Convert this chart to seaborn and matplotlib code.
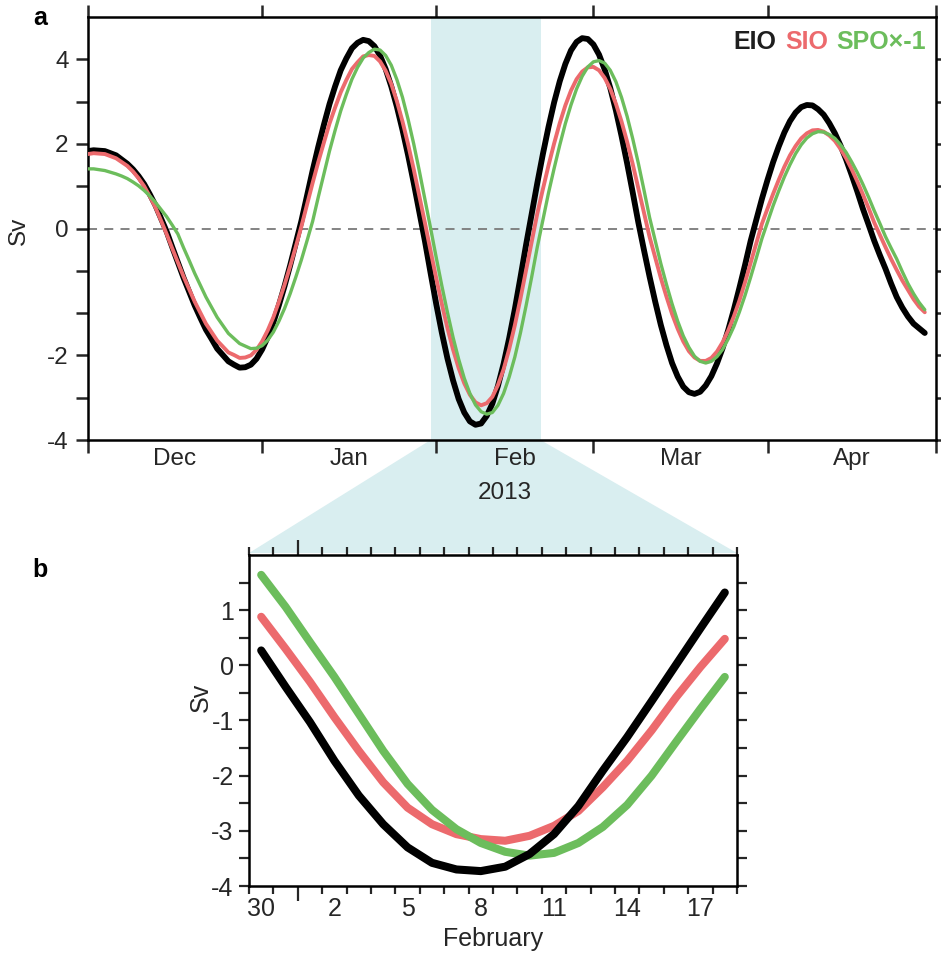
import numpy as np
import pandas as pd
import matplotlib
matplotlib.use('Agg')
import matplotlib.pyplot as plt
import matplotlib.dates as mdates
from matplotlib.patches import Polygon
import seaborn as sns

# ---- panel a: daily values from 1 Dec 2012 ----
# the axis is linear in these units; its printed labels below zero sit one
# unit lower than the marks they are drawn at, as in the source figure
days_a = list(range(150))
eio_a = [1.83, 1.85, 1.84, 1.83, 1.78, 1.73, 1.63, 1.53, 1.40, 1.24,
         1.05, 0.81, 0.55, 0.24, -0.07, -0.44, -0.80, -1.16, -1.49, -1.82,
         -2.11, -2.39, -2.61, -2.84, -2.99, -3.14, -3.22, -3.29, -3.28, -3.22,
         -3.08, -2.86, -2.57, -2.22, -1.81, -1.36, -0.87, -0.35, 0.18, 0.78,
         1.37, 1.93, 2.45, 2.94, 3.36, 3.74, 4.02, 4.26, 4.39, 4.46,
         4.43, 4.31, 4.09, 3.77, 3.36, 2.88, 2.33, 1.73, 1.08, 0.39,
         -0.30, -1.05, -1.78, -2.46, -3.07, -3.59, -4.03, -4.35, -4.56, -4.64,
         -4.61, -4.43, -4.14, -3.72, -3.20, -2.59, -1.91, -1.16, -0.39, 0.34,
         1.07, 1.76, 2.40, 2.98, 3.48, 3.89, 4.21, 4.41, 4.50, 4.48,
         4.35, 4.11, 3.76, 3.32, 2.79, 2.19, 1.54, 0.85, 0.14, -0.51,
         -1.14, -1.73, -2.28, -2.76, -3.18, -3.50, -3.74, -3.87, -3.91, -3.86,
         -3.71, -3.49, -3.19, -2.83, -2.40, -1.92, -1.40, -0.86, -0.29, 0.21,
         0.70, 1.15, 1.57, 1.94, 2.27, 2.54, 2.74, 2.87, 2.92, 2.91,
         2.82, 2.69, 2.49, 2.25, 1.96, 1.63, 1.26, 0.87, 0.46, 0.09,
         -0.29, -0.63, -0.95, -1.30, -1.62, -1.87, -2.08, -2.25, -2.36, -2.47]
sio_a = [1.76, 1.78, 1.77, 1.76, 1.71, 1.66, 1.57, 1.48, 1.35, 1.19,
         1.00, 0.76, 0.50, 0.19, -0.13, -0.47, -0.80, -1.13, -1.43, -1.73,
         -1.99, -2.25, -2.45, -2.65, -2.79, -2.93, -2.99, -3.06, -3.05, -3.00,
         -2.87, -2.67, -2.41, -2.10, -1.73, -1.33, -0.89, -0.43, 0.05, 0.57,
         1.08, 1.57, 2.03, 2.48, 2.86, 3.22, 3.51, 3.77, 3.93, 4.07,
         4.10, 4.08, 3.95, 3.73, 3.42, 3.01, 2.53, 1.99, 1.40, 0.77,
         0.13, -0.53, -1.17, -1.78, -2.35, -2.86, -3.30, -3.66, -3.93, -4.11,
         -4.18, -4.13, -3.98, -3.70, -3.33, -2.85, -2.29, -1.66, -0.99, -0.32,
         0.35, 0.93, 1.49, 2.01, 2.49, 2.91, 3.26, 3.53, 3.71, 3.81,
         3.82, 3.74, 3.56, 3.30, 2.95, 2.53, 2.05, 1.52, 0.95, 0.38,
         -0.20, -0.69, -1.17, -1.61, -2.02, -2.37, -2.67, -2.90, -3.05, -3.13,
         -3.13, -3.06, -2.91, -2.69, -2.41, -2.08, -1.70, -1.27, -0.81, -0.35,
         0.11, 0.47, 0.82, 1.15, 1.46, 1.73, 1.95, 2.13, 2.25, 2.32,
         2.33, 2.29, 2.20, 2.07, 1.88, 1.66, 1.40, 1.11, 0.80, 0.48,
         0.14, -0.15, -0.44, -0.72, -0.98, -1.23, -1.45, -1.67, -1.85, -1.98]
spo_a = [1.41, 1.41, 1.39, 1.37, 1.33, 1.29, 1.24, 1.18, 1.10, 1.01,
         0.90, 0.77, 0.62, 0.45, 0.28, 0.08, -0.13, -0.45, -0.75, -1.06,
         -1.34, -1.62, -1.86, -2.10, -2.29, -2.48, -2.60, -2.72, -2.78, -2.84,
         -2.83, -2.77, -2.64, -2.45, -2.19, -1.89, -1.54, -1.15, -0.74, -0.29,
         0.17, 0.74, 1.29, 1.83, 2.32, 2.78, 3.17, 3.53, 3.81, 4.03,
         4.16, 4.24, 4.22, 4.09, 3.86, 3.52, 3.10, 2.58, 2.00, 1.36,
         0.69, 0.01, -0.68, -1.35, -1.98, -2.57, -3.09, -3.54, -3.90, -4.17,
         -4.33, -4.39, -4.35, -4.18, -3.90, -3.51, -3.04, -2.47, -1.83, -1.15,
         -0.44, 0.20, 0.84, 1.42, 1.97, 2.48, 2.92, 3.30, 3.60, 3.82,
         3.94, 3.97, 3.91, 3.74, 3.47, 3.10, 2.65, 2.12, 1.54, 0.91,
         0.26, -0.29, -0.83, -1.32, -1.78, -2.19, -2.54, -2.81, -3.02, -3.14,
         -3.18, -3.14, -3.03, -2.86, -2.61, -2.32, -1.97, -1.58, -1.15, -0.70,
         -0.24, 0.15, 0.54, 0.89, 1.22, 1.51, 1.77, 1.98, 2.14, 2.24,
         2.29, 2.28, 2.22, 2.13, 1.98, 1.80, 1.57, 1.32, 1.04, 0.74,
         0.42, 0.12, -0.19, -0.46, -0.72, -1.02, -1.30, -1.54, -1.75, -1.92]

# ---- panel b: daily values 30 Jan - 18 Feb 2013 ----
eio_b = [0.27, -0.39, -1.03, -1.73, -2.36, -2.88, -3.30, -3.58, -3.70, -3.73,
         -3.65, -3.42, -3.06, -2.55, -1.91, -1.30, -0.65, 0.01, 0.67, 1.32]
sio_b = [0.88, 0.30, -0.30, -0.94, -1.55, -2.12, -2.58, -2.88, -3.06, -3.15,
         -3.18, -3.09, -2.91, -2.64, -2.21, -1.73, -1.18, -0.58, -0.03, 0.48]
spo_b = [1.64, 1.06, 0.42, -0.21, -0.88, -1.55, -2.15, -2.62, -2.97, -3.22,
         -3.38, -3.45, -3.40, -3.22, -2.93, -2.53, -2.00, -1.39, -0.79, -0.21]

month_names = ['Dec', 'Jan', 'Feb', 'Mar', 'Apr']
a_ytick_vals = [4, 2, 0, -3, -5]
a_ytick_labels = ['4', '2', '0', '-2', '-4']
b_tick_dates = ['2013-01-30', '2013-02-02', '2013-02-05', '2013-02-08',
                '2013-02-11', '2013-02-14', '2013-02-17']
b_tick_labels = ['30', '2', '5', '8', '11', '14', '17']

red = '#ec6a6d'
green = '#6cbd5c'
shade = '#d9eef0'

sns.set_style('ticks')
plt.rcParams['font.family'] = ['Liberation Sans', 'DejaVu Sans']
plt.rcParams['axes.linewidth'] = 1.8
plt.rcParams['axes.edgecolor'] = 'black'
plt.rcParams['axes.unicode_minus'] = False
plt.rcParams['text.color'] = '#222222'

fig = plt.figure(figsize=(9.41, 9.55), dpi=100)
ax_a = fig.add_axes([88 / 941, 1 - 440 / 955, 848 / 941, 423 / 955])
ax_b = fig.add_axes([249 / 941, 1 - 886 / 955, 488 / 941, 331 / 955])

# ---------------- panel a ----------------
dates_a = pd.Timestamp('2012-12-01') + pd.to_timedelta(days_a, unit='D')
a_lo, a_hi = pd.Timestamp('2012-12-01'), pd.Timestamp('2013-05-01')
shade_lo, shade_hi = pd.Timestamp('2013-01-31'), pd.Timestamp('2013-02-19 14:00')

ax_a.axvspan(mdates.date2num(shade_lo), mdates.date2num(shade_hi),
             color=shade, lw=0, zorder=0)
ax_a.axhline(0, color='#7a7a7a', lw=1.3, ls=(0, (5, 4)), zorder=1)
sns.lineplot(x=dates_a, y=eio_a, ax=ax_a, color='black', lw=4.2, zorder=3)
sns.lineplot(x=dates_a, y=sio_a, ax=ax_a, color=red, lw=2.8, zorder=4)
sns.lineplot(x=dates_a, y=spo_a, ax=ax_a, color=green, lw=2.4, zorder=5)

ax_a.set_xlim(mdates.date2num(a_lo), mdates.date2num(a_hi))
ax_a.set_ylim(-5, 5)
month_starts = pd.date_range(a_lo, a_hi, freq='MS')
month_mids = month_starts[:-1] + (month_starts[1:] - month_starts[:-1]) / 2
ax_a.set_xticks(mdates.date2num(month_mids.to_pydatetime()))
ax_a.set_xticklabels(month_names)
ax_a.set_xticks(mdates.date2num(month_starts.to_pydatetime()), minor=True)
ax_a.set_yticks(a_ytick_vals)
ax_a.set_yticklabels(a_ytick_labels)
ax_a.set_yticks([3, 1, -1, -2, -4], minor=True)

ax_a.tick_params(axis='x', which='major', length=0, pad=6, labelsize=17.5)
ax_a.tick_params(axis='x', which='minor', direction='out', length=9, width=1.8,
                 top=True, bottom=True)
ax_a.tick_params(axis='y', which='both', direction='out', length=9, width=1.8,
                 left=True, right=True, labelsize=17.5, pad=5)
ax_a.set_xlabel('2013', fontsize=17.5)
ax_a.xaxis.set_label_coords(0.492, -0.1)
ax_a.set_ylabel('Sv', fontsize=17.5)
ax_a.yaxis.set_label_coords(-0.068, 0.494)

t = ax_a.text(0.988, 0.912, 'SPO×-1', transform=ax_a.transAxes, ha='right',
              va='bottom', color=green, fontweight='bold', fontsize=18)
t = ax_a.annotate('SIO', xy=(0, 0), xycoords=t, xytext=(-6, 0),
                  textcoords='offset points', ha='right', va='bottom',
                  color=red, fontweight='bold', fontsize=18)
ax_a.annotate('EIO', xy=(0, 0), xycoords=t, xytext=(-6, 0),
              textcoords='offset points', ha='right', va='bottom',
              color='#1e1e1e', fontweight='bold', fontsize=18)

# ---------------- panel b ----------------
dates_b = pd.date_range('2013-01-30 12:00', periods=len(eio_b), freq='D')
b_lo, b_hi = pd.Timestamp('2013-01-30'), pd.Timestamp('2013-02-19')

sns.lineplot(x=dates_b, y=sio_b, ax=ax_b, color=red, lw=5.8, zorder=3)
sns.lineplot(x=dates_b, y=spo_b, ax=ax_b, color=green, lw=5.8, zorder=4)
sns.lineplot(x=dates_b, y=eio_b, ax=ax_b, color='black', lw=5.8, zorder=5)

ax_b.set_xlim(mdates.date2num(b_lo), mdates.date2num(b_hi))
ax_b.set_ylim(-4, 2)
label_pos = pd.to_datetime(b_tick_dates) + pd.Timedelta(hours=12)
ax_b.set_xticks(mdates.date2num(label_pos.to_pydatetime()))
ax_b.set_xticklabels(b_tick_labels)
day_edges = pd.date_range(b_lo, b_hi, freq='D')
ax_b.set_xticks(mdates.date2num(day_edges.to_pydatetime()), minor=True)
ax_b.set_yticks([-4, -3, -2, -1, 0, 1])
ax_b.set_yticks(np.arange(-3.5, 2.0, 1.0), minor=True)

ax_b.tick_params(axis='x', which='major', length=0, pad=8, labelsize=18)
ax_b.tick_params(axis='x', which='minor', direction='out', length=6, width=1.6,
                 top=True, bottom=True)
ax_b.tick_params(axis='y', which='both', direction='out', length=7, width=1.6,
                 left=True, right=True, labelsize=18, pad=4)
# longer tick at the start of February
feb1 = mdates.date2num(pd.Timestamp('2013-02-01'))
minor_locs = ax_b.xaxis.get_minorticklocs()
for tick, loc in zip(ax_b.xaxis.get_minor_ticks(len(minor_locs)), minor_locs):
    if abs(loc - feb1) < 1e-6:
        tick.tick1line.set_markersize(11)
        tick.tick2line.set_markersize(11)

ax_b.set_xlabel('February', fontsize=18)
ax_b.xaxis.set_label_coords(0.5, -0.125)
ax_b.set_ylabel('Sv', fontsize=18)
ax_b.yaxis.set_label_coords(-0.075, 0.571)

# connector from the shaded window of panel a to panel b
inv = fig.transFigure.inverted()
ya = ax_a.get_ylim()[0]
c1 = inv.transform(ax_a.transData.transform((mdates.date2num(shade_lo), ya)))
c2 = inv.transform(ax_a.transData.transform((mdates.date2num(shade_hi), ya)))
c3 = inv.transform(ax_b.transAxes.transform((1, 1.006)))
c4 = inv.transform(ax_b.transAxes.transform((0, 1.006)))
fig.add_artist(Polygon([c1, c2, c3, c4], closed=True, transform=fig.transFigure,
                       facecolor=shade, edgecolor='none', zorder=-1))

fig.text(40 / 941, 1 - 18 / 955, 'a', fontweight='bold', fontsize=18,
         ha='center', va='center', color='black')
fig.text(40 / 941, 1 - 570 / 955, 'b', fontweight='bold', fontsize=18,
         ha='center', va='center', color='black')

fig.savefig('out.png', dpi=100)
